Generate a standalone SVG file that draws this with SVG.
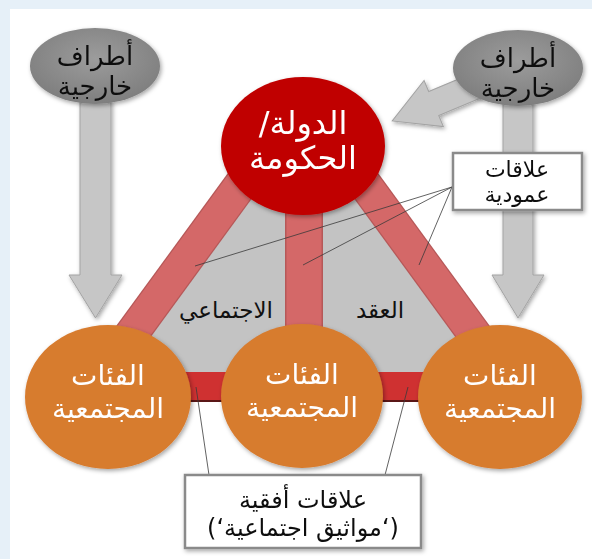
<svg xmlns="http://www.w3.org/2000/svg" width="592" height="559" viewBox="0 0 592 559">
<defs>
<filter id="sh" x="-20%" y="-20%" width="140%" height="140%">
<feDropShadow dx="1.5" dy="2" stdDeviation="2" flood-color="#000" flood-opacity="0.35"/>
</filter>
<radialGradient id="gg" cx="50%" cy="40%" r="60%">
<stop offset="0" stop-color="#9c9c9c"/>
<stop offset="1" stop-color="#7e7e7e"/>
</radialGradient>
</defs>
<style>
.ar{font-family:"DejaVu Sans",sans-serif;text-anchor:middle;direction:rtl}
.wt{fill:#ffffff}
.bk{fill:#111111}
.arrow{fill:#c6c6c6;stroke:#a3a3a3;stroke-width:1}
.band{stroke:#d46868;stroke-width:32;fill:none}
.bandedge{stroke:#b65858;stroke-width:34.5;fill:none}
.lead{stroke:#3a3a3a;stroke-width:0.8;fill:none}
.box{fill:#ffffff;stroke:#8a8a8a;stroke-width:2.5}
.orange{fill:#d77b2f}
</style>
<rect x="0" y="0" width="592" height="559" fill="#e6f0f8"/>
<rect x="10" y="9" width="582" height="550" fill="#ffffff"/>

<g id="triangle">
<polygon points="269,146 337,146 506,380 100,380" fill="#c3c3c3"/>
<line class="bandedge" x1="269" y1="146" x2="98" y2="380"/>
<line class="bandedge" x1="337" y1="146" x2="508" y2="380"/>
<rect x="285" y="146" width="38" height="234" fill="#b65858"/>
<line class="band" x1="269" y1="146" x2="98" y2="380"/>
<line class="band" x1="337" y1="146" x2="508" y2="380"/>
<rect x="286.5" y="146" width="35" height="234" fill="#d46868"/>
<rect x="108" y="372" width="392" height="30" fill="#cf3131"/>
<line x1="108" y1="401" x2="500" y2="401" stroke="#5a1616" stroke-width="2"/>
</g>

<g id="arrow-left" filter="url(#sh)">
<polygon class="arrow" points="80,100 111,100 111,275 122,275 95.5,318 69,275 80,275"/>
</g>
<g id="arrow-right" filter="url(#sh)">
<polygon class="arrow" points="503,100 533,100 533,275 544,275 518,318 492,275 503,275"/>
</g>
<g id="arrow-diag" filter="url(#sh)">
<polygon class="arrow" transform="translate(478,85) rotate(157.3)" points="0,-13 48,-13 48,-25 93,0 48,25 48,13 0,13"/>
</g>

<g id="ext-left" filter="url(#sh)">
<ellipse cx="95" cy="66" rx="65" ry="38" fill="url(#gg)"/>
<text class="ar bk" x="95" y="65" font-size="26">أطراف</text>
<text class="ar bk" x="95" y="95" font-size="26">خارجية</text>
</g>
<g id="ext-right" filter="url(#sh)">
<ellipse cx="518" cy="68" rx="65" ry="38" fill="url(#gg)"/>
<text class="ar bk" x="518" y="67" font-size="26">أطراف</text>
<text class="ar bk" x="518" y="97" font-size="26">خارجية</text>
</g>

<g id="state" filter="url(#sh)">
<ellipse cx="303" cy="146" rx="82" ry="69" fill="#c00000"/>
<text class="ar wt" x="303" y="134" font-size="32">الدولة/</text>
<text class="ar wt" x="303" y="169" font-size="32">الحكومة</text>
</g>

<g id="group-left" filter="url(#sh)">
<ellipse class="orange" cx="108" cy="397" rx="83" ry="72"/>
<text class="ar wt" x="108" y="385" font-size="28">الفئات</text>
<text class="ar wt" x="108" y="418" font-size="28">المجتمعية</text>
</g>
<g id="group-mid" filter="url(#sh)">
<ellipse class="orange" cx="302" cy="396" rx="81" ry="72"/>
<text class="ar wt" x="302" y="384" font-size="28">الفئات</text>
<text class="ar wt" x="302" y="417" font-size="28">المجتمعية</text>
</g>
<g id="group-right" filter="url(#sh)">
<ellipse class="orange" cx="500" cy="397" rx="82" ry="72"/>
<text class="ar wt" x="500" y="385" font-size="28">الفئات</text>
<text class="ar wt" x="500" y="418" font-size="28">المجتمعية</text>
</g>

<g id="labels-contract">
<text class="ar bk" x="226" y="318" font-size="23">الاجتماعي</text>
<text class="ar bk" x="380" y="318" font-size="23">العقد</text>
</g>

<g id="connectors">
<line class="lead" x1="452" y1="187" x2="195" y2="266"/>
<line class="lead" x1="452" y1="187" x2="303" y2="265"/>
<line class="lead" x1="452" y1="187" x2="419" y2="265"/>
<line class="lead" x1="209" y1="475" x2="196" y2="387"/>
<line class="lead" x1="385" y1="475" x2="408" y2="387"/>
</g>

<g id="box-vertical" filter="url(#sh)">
<rect class="box" x="453" y="153" width="129" height="57"/>
<text class="ar bk" x="517" y="177" font-size="22">علاقات</text>
<text class="ar bk" x="517" y="202" font-size="22">عمودية</text>
</g>

<g id="box-horizontal" filter="url(#sh)">
<rect class="box" x="185" y="475" width="236" height="73"/>
<text class="ar bk" x="303" y="508" font-size="24">علاقات أفقية</text>
<text class="ar bk" x="303" y="536" font-size="24">(‘مواثيق اجتماعية‘)</text>
</g>
</svg>
